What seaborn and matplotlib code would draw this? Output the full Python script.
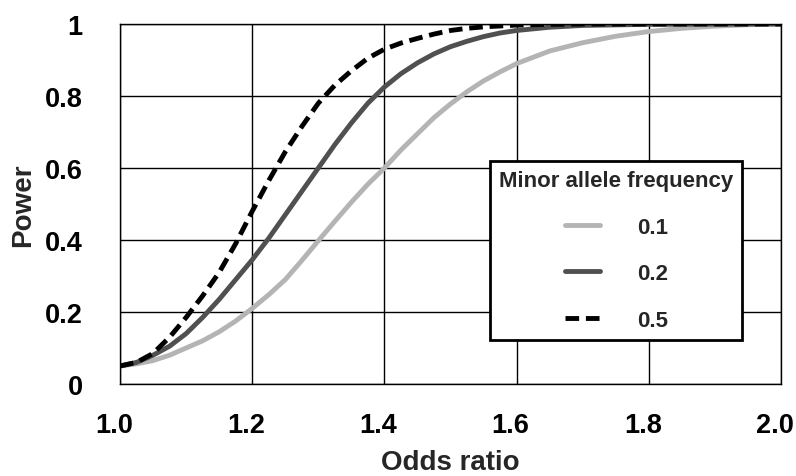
import pandas as pd
import matplotlib
matplotlib.use("Agg")
import matplotlib.pyplot as plt
import matplotlib.transforms as mtransforms
import seaborn as sns

# power curves, one list per minor allele frequency
or_05 = [1.0, 1.025, 1.05, 1.075, 1.1, 1.125, 1.15, 1.175, 1.2, 1.225, 1.25,
         1.275, 1.3, 1.325, 1.35, 1.375, 1.4, 1.425, 1.45, 1.475, 1.5, 1.525,
         1.55, 1.6, 1.65, 1.7, 1.8, 2.0]
pw_05 = [0.05, 0.06, 0.085, 0.13, 0.185, 0.245, 0.31, 0.39, 0.48, 0.565, 0.645,
         0.715, 0.78, 0.83, 0.87, 0.905, 0.93, 0.947, 0.96, 0.972, 0.982, 0.988,
         0.992, 0.997, 0.999, 1.0, 1.0, 1.0]

or_02 = [1.0, 1.025, 1.05, 1.075, 1.1, 1.125, 1.15, 1.175, 1.2, 1.225, 1.25,
         1.275, 1.3, 1.325, 1.35, 1.375, 1.4, 1.425, 1.45, 1.475, 1.5, 1.525,
         1.55, 1.575, 1.6, 1.65, 1.7, 1.8, 2.0]
pw_02 = [0.05, 0.06, 0.08, 0.105, 0.14, 0.185, 0.235, 0.29, 0.345, 0.405, 0.47,
         0.535, 0.60, 0.665, 0.725, 0.78, 0.825, 0.862, 0.892, 0.917, 0.937, 0.952,
         0.965, 0.975, 0.982, 0.991, 0.996, 0.999, 1.0]

or_01 = [1.0, 1.025, 1.05, 1.075, 1.1, 1.125, 1.15, 1.175, 1.2, 1.225, 1.25,
         1.275, 1.3, 1.325, 1.35, 1.375, 1.4, 1.425, 1.45, 1.475, 1.5, 1.525,
         1.55, 1.575, 1.6, 1.65, 1.7, 1.75, 1.8, 1.85, 1.9, 1.95, 2.0]
pw_01 = [0.05, 0.056, 0.065, 0.08, 0.10, 0.12, 0.145, 0.175, 0.21, 0.248, 0.29,
         0.343, 0.398, 0.452, 0.505, 0.555, 0.60, 0.65, 0.695, 0.74, 0.778, 0.812,
         0.842, 0.867, 0.89, 0.925, 0.948, 0.966, 0.979, 0.988, 0.994, 0.998, 1.0]

maf_labels = ["0.1", "0.2", "0.5"]
x_ticks = [1.0, 1.2, 1.4, 1.6, 1.8, 2.0]
x_tick_labels = ["1.0", "1.2", "1.4", "1.6", "1.8", "2.0"]
y_ticks = [0, 0.2, 0.4, 0.6, 0.8, 1]
y_tick_labels = ["0", "0.2", "0.4", "0.6", "0.8", "1"]

df = pd.concat([
    pd.DataFrame({"Odds ratio": or_01, "Power": pw_01, "maf": "0.1"}),
    pd.DataFrame({"Odds ratio": or_02, "Power": pw_02, "maf": "0.2"}),
    pd.DataFrame({"Odds ratio": or_05, "Power": pw_05, "maf": "0.5"}),
], ignore_index=True)

sns.set_style("white")
plt.rcParams["font.family"] = ["Liberation Sans", "DejaVu Sans"]
plt.rcParams["font.weight"] = "bold"

fig = plt.figure(figsize=(7.96, 4.77), dpi=100)
ax = fig.add_axes([0.1508, 0.1929, 0.8304, 0.7547])

colors = {"0.1": "#b4b4b4", "0.2": "#505050", "0.5": "#000000"}
dashes = {"0.1": "", "0.2": "", "0.5": (2.8, 1.4)}
sns.lineplot(data=df, x="Odds ratio", y="Power", hue="maf", style="maf",
             hue_order=maf_labels, style_order=maf_labels,
             palette=colors, dashes=dashes, linewidth=3.5, ax=ax, sort=False)

ax.set_xlim(1.0, 2.0)
ax.set_ylim(0, 1)
ax.set_xticks(x_ticks)
ax.set_xticklabels(x_tick_labels)
ax.set_yticks(y_ticks)
ax.set_yticklabels(y_tick_labels)
ax.tick_params(axis="both", direction="out", length=8, width=1, color="black",
               labelsize=19.5, labelcolor="black")
ax.tick_params(axis="y", pad=19)
ax.tick_params(axis="x", pad=12)
# x tick labels sit a little left of their ticks in the original
shift = mtransforms.ScaledTranslation(-6 / 100, 0, fig.dpi_scale_trans)
for lab in ax.get_xticklabels():
    lab.set_transform(lab.get_transform() + shift)
ax.grid(True, color="black", linewidth=1)
ax.set_axisbelow(True)
for s in ax.spines.values():
    s.set_color("black")
    s.set_linewidth(1)

ax.set_xlabel("Odds ratio", fontsize=20, fontweight="bold", labelpad=8)
ax.set_ylabel("Power", fontsize=20, fontweight="bold", labelpad=6)

handles, labels = ax.get_legend_handles_labels()
leg = ax.legend(handles, labels, title="Minor allele frequency",
                loc="upper left", bbox_to_anchor=(0.56, 0.619),
                borderaxespad=0, fontsize=16, title_fontsize=16,
                handlelength=1.6, handletextpad=1.65, labelspacing=1.15,
                borderpad=0.4, fancybox=False, framealpha=1, edgecolor="black")
leg.get_title().set_fontweight("bold")
leg.get_frame().set_linewidth(2)

fig.savefig("out.png", dpi=100)
